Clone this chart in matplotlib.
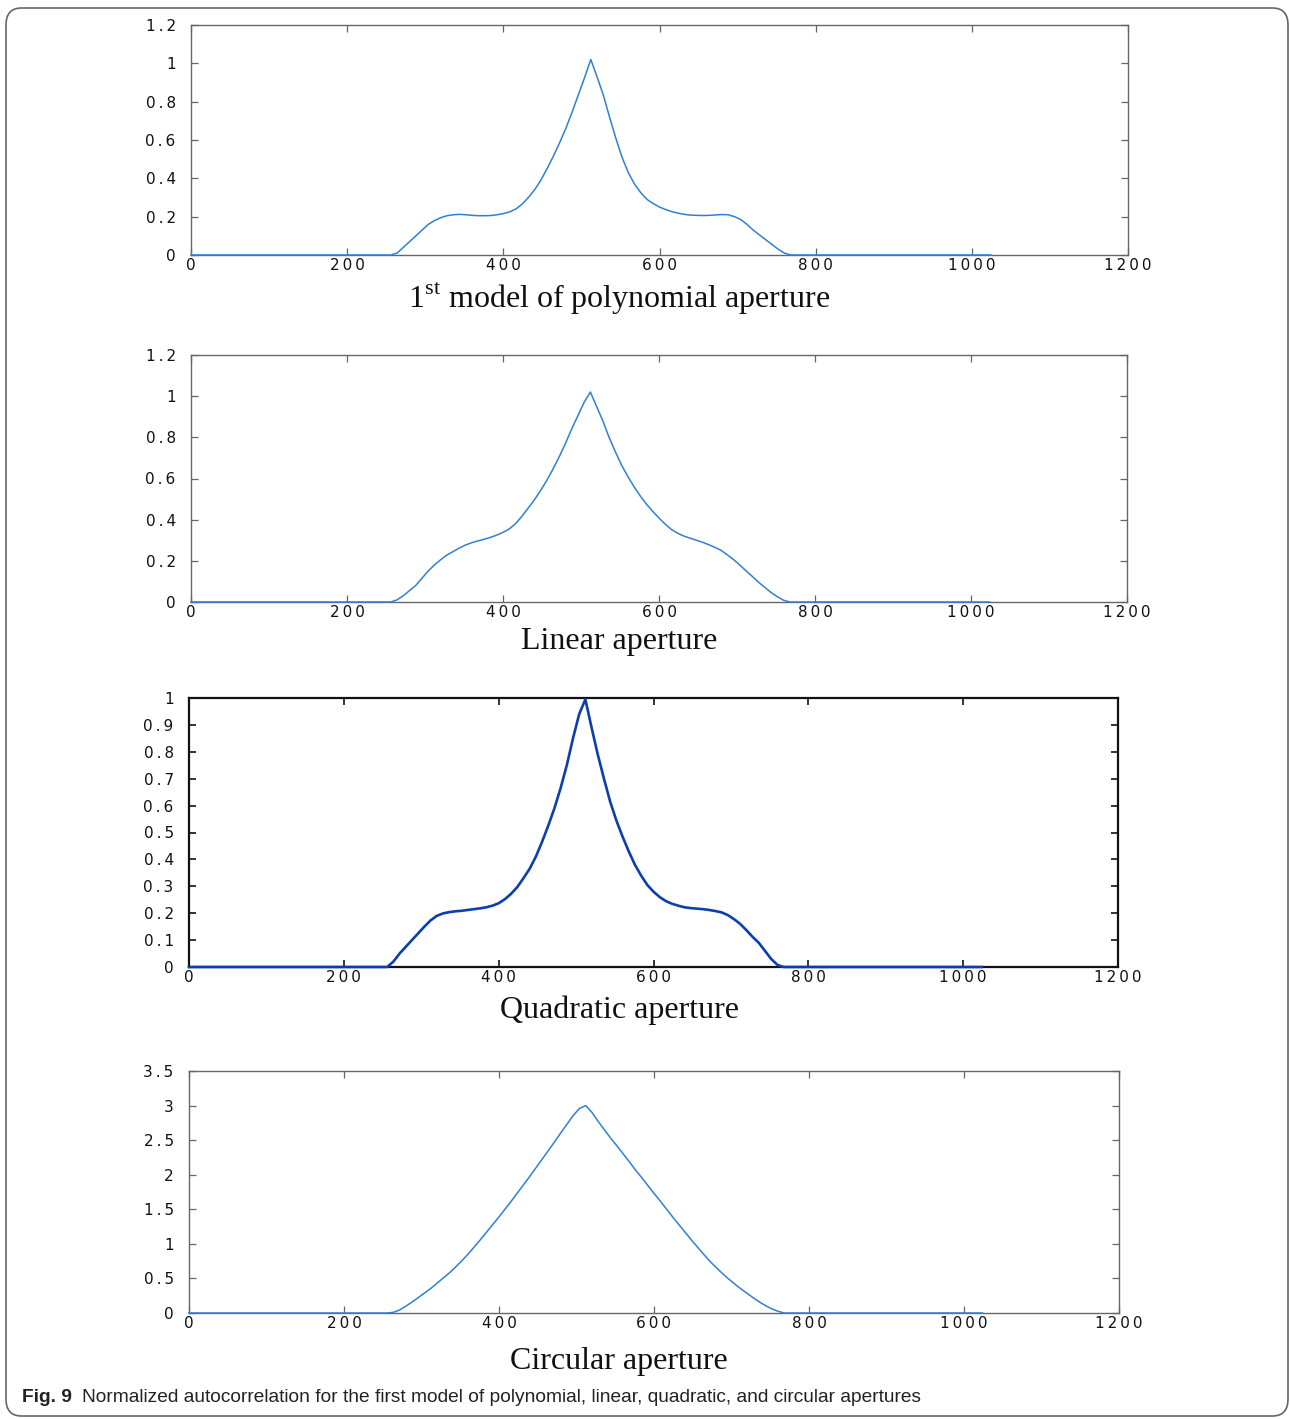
import matplotlib
matplotlib.use("Agg")
import matplotlib.pyplot as plt
from matplotlib.patches import FancyBboxPatch
from matplotlib.ticker import FuncFormatter

plt.rcParams['mathtext.fontset'] = 'custom'
plt.rcParams['mathtext.rm'] = 'Liberation Serif'

lags = [0,
        256, 264, 272, 280, 288, 296, 304, 312, 320, 328, 336, 344, 352, 360, 368, 376, 384,
        392, 400, 408, 416, 424, 432, 440, 448, 456, 464, 472, 480, 488, 496, 504, 512,
        520, 528, 536, 544, 552, 560, 568, 576, 584, 592, 600, 608, 616, 624, 632, 640,
        648, 656, 664, 672, 680, 688, 696, 704, 712, 720, 728, 736, 744, 752, 760, 768,
        1024]

poly_vals = [0,
             0, 0.01, 0.04, 0.07, 0.10, 0.13, 0.16, 0.18, 0.195, 0.205, 0.21, 0.212, 0.21,
             0.207, 0.205, 0.205, 0.206, 0.21, 0.216, 0.225, 0.24, 0.265, 0.30, 0.34, 0.39,
             0.45, 0.515, 0.585, 0.66, 0.745, 0.835, 0.925, 1.02,
             0.93, 0.835, 0.72, 0.61, 0.51, 0.43, 0.37, 0.325, 0.29, 0.268, 0.25, 0.237, 0.226,
             0.218, 0.212, 0.208, 0.207, 0.206, 0.207, 0.209, 0.211, 0.21, 0.2, 0.185, 0.16,
             0.13, 0.105, 0.08, 0.055, 0.03, 0.01, 0,
             0]
linear_vals = [0,
               0, 0.01, 0.03, 0.055, 0.08, 0.115, 0.15, 0.18, 0.205, 0.228, 0.245, 0.262, 0.277,
               0.288, 0.297, 0.305, 0.314, 0.325, 0.338, 0.355, 0.38, 0.415, 0.455, 0.495, 0.54,
               0.59, 0.645, 0.705, 0.77, 0.84, 0.905, 0.97, 1.02,
               0.95, 0.88, 0.80, 0.73, 0.665, 0.61, 0.56, 0.515, 0.475, 0.44, 0.408, 0.378, 0.352,
               0.334, 0.32, 0.31, 0.30, 0.29, 0.278, 0.265, 0.25, 0.228, 0.205, 0.178, 0.15,
               0.123, 0.095, 0.07, 0.045, 0.025, 0.008, 0,
               0]
quad_vals = [0,
             0, 0.02, 0.05, 0.075, 0.10, 0.125, 0.15, 0.173, 0.19, 0.199, 0.204, 0.207, 0.209,
             0.212, 0.215, 0.218, 0.222, 0.228, 0.237, 0.252, 0.272, 0.297, 0.33, 0.365, 0.41,
             0.465, 0.525, 0.59, 0.665, 0.75, 0.85, 0.94, 0.995,
             0.89, 0.79, 0.70, 0.615, 0.545, 0.485, 0.43, 0.38, 0.34, 0.305, 0.28, 0.26, 0.245,
             0.235, 0.228, 0.222, 0.219, 0.217, 0.215, 0.212, 0.208, 0.203, 0.193, 0.178, 0.16,
             0.137, 0.112, 0.09, 0.06, 0.03, 0.008, 0,
             0]
circ_vals = [0,
             0, 0.01, 0.045, 0.1, 0.16, 0.225, 0.29, 0.355, 0.43, 0.505, 0.58, 0.665, 0.755,
             0.85, 0.955, 1.06, 1.17, 1.28, 1.39, 1.505, 1.62, 1.74, 1.86, 1.98, 2.105, 2.23,
             2.355, 2.48, 2.61, 2.735, 2.86, 2.96, 3.0,
             2.9, 2.77, 2.65, 2.53, 2.42, 2.305, 2.19, 2.07, 1.96, 1.845, 1.73, 1.62, 1.505,
             1.39, 1.28, 1.17, 1.06, 0.955, 0.85, 0.75, 0.66, 0.575, 0.495, 0.42, 0.35, 0.285,
             0.22, 0.16, 0.105, 0.06, 0.025, 0,
             0]

x_ticks = [0, 200, 400, 600, 800, 1000, 1200]
titles = [r"1$^{\mathrm{st}}$ model of polynomial aperture", "Linear aperture",
          "Quadratic aperture", "Circular aperture"]
y_ticks = [[0, 0.2, 0.4, 0.6, 0.8, 1, 1.2],
           [0, 0.2, 0.4, 0.6, 0.8, 1, 1.2],
           [0, 0.1, 0.2, 0.3, 0.4, 0.5, 0.6, 0.7, 0.8, 0.9, 1],
           [0, 0.5, 1, 1.5, 2, 2.5, 3, 3.5]]
caption = "Normalized autocorrelation for the first model of polynomial, linear, quadratic, and circular apertures"

W, H = 1290, 1419
fig = plt.figure(figsize=(W / 100, H / 100), dpi=100)

# pixel boxes: left, right, top, bottom
boxes = [(191, 1128, 25, 255), (191, 1127, 355, 602), (189, 1118, 698, 967), (189, 1119, 1071, 1313)]
title_y = [299, 642, 1010, 1361]
series = [poly_vals, linear_vals, quad_vals, circ_vals]

# wide tick labels like the old matlab export (thin space between glyphs)
fmt = FuncFormatter(lambda v, p: "\u2009".join("%g" % v))

for i in range(4):
    l, r, t, b = boxes[i]
    ax = fig.add_axes([l / W, 1 - b / H, (r - l) / W, (b - t) / H])
    dark = (i == 2)
    line_col = '#0b3fae' if dark else '#2f80d4'
    spine_col = '#111111' if dark else '#666666'
    ax.plot(lags, series[i], color=line_col, lw=1.9 if dark else 1.1, clip_on=False, zorder=3)
    ax.set_xlim(0, 1200)
    ax.set_ylim(y_ticks[i][0], y_ticks[i][-1])
    ax.set_xticks(x_ticks)
    ax.set_yticks(y_ticks[i])
    ax.xaxis.set_major_formatter(fmt)
    ax.yaxis.set_major_formatter(fmt)
    for s in ax.spines.values():
        s.set_color(spine_col)
        s.set_linewidth(1.6 if dark else 1.0)
    ax.tick_params(direction='in', length=5, width=1.2 if dark else 0.9, color=spine_col,
                   top=True, right=True, labelsize=11, labelcolor='#111111')
    ax.tick_params(axis='x', pad=2)
    ax.tick_params(axis='y', pad=11)
    for lab in ax.get_xticklabels() + ax.get_yticklabels():
        lab.set_family('DejaVu Sans')
    fig.text(619 / W, 1 - title_y[i] / H, titles[i], ha='center', va='center',
             family='Liberation Serif', fontsize=23, color='#111111')

fig.text(22 / W, 1 - 1397 / H, "Fig. 9", ha='left', va='center', fontweight='bold',
         family='Liberation Sans', fontsize=13.8, color='#222222')
fig.text(82 / W, 1 - 1397 / H, caption, ha='left', va='center',
         family='Liberation Sans', fontsize=13.8, color='#222222')

frame = FancyBboxPatch((6 / W, 3 / H), 1282 / W, 1408 / H, boxstyle="round,pad=0,rounding_size=0.012",
                       transform=fig.transFigure, fill=False, ec='#666666', lw=1.2)
fig.patches.append(frame)

fig.savefig("out.png", dpi=100)
